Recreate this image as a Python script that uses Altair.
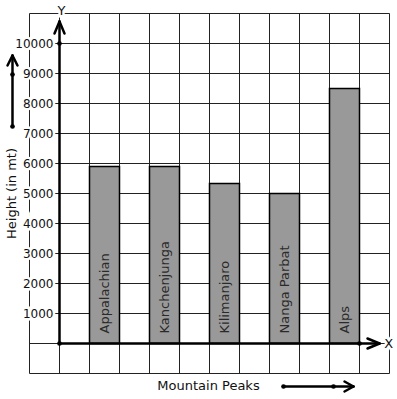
import altair as alt
import pandas as pd

# ---- data ----
peaks = ["Appalachian", "Kanchenjunga", "Kilimanjaro", "Nanga Parbat", "Alps"]
heights = [5900, 5900, 5330, 5000, 8500]
slots = [1, 3, 5, 7, 9]          # grid column where each bar starts
y_ticks = [1000, 2000, 3000, 4000, 5000, 6000, 7000, 8000, 9000, 10000]
grid_x = list(range(-1, 12))
grid_y = list(range(-1000, 12000, 1000))

FONT = "DejaVu Sans"
xs = alt.Scale(domain=[-1, 11], nice=False, zero=False)
ys = alt.Scale(domain=[-1000, 11000], nice=False, zero=False)

def X(f):
    return alt.X(f, type="quantitative", scale=xs, axis=None)

def Y(f):
    return alt.Y(f, type="quantitative", scale=ys, axis=None)

# grid
vg = pd.DataFrame({"x": grid_x, "y": -1000, "y2": 11000})
hg = pd.DataFrame({"y": grid_y, "x": -1, "x2": 11})
vgrid = alt.Chart(vg).mark_rule(color="#222", strokeWidth=1).encode(
    x=X("x"), y=Y("y"), y2="y2")
hgrid = alt.Chart(hg).mark_rule(color="#222", strokeWidth=1).encode(
    y=Y("y"), x=X("x"), x2="x2")

# bars
bd = pd.DataFrame({"peak": peaks, "h": heights, "x0": slots,
                   "x1": [s + 1 for s in slots], "xc": [s + 0.5 for s in slots],
                   "base": 0, "lab_y": 333})
bars = alt.Chart(bd).mark_rect(fill="#999999", stroke="#000", strokeWidth=1.5).encode(
    x=X("x0"), x2="x1", y=Y("base"), y2="h")
bar_text = alt.Chart(bd).mark_text(angle=270, align="left", baseline="middle",
                                   font=FONT, fontSize=13, color="#2a2a2a").encode(
    x=X("xc"), y=Y("lab_y"), text="peak")

# axes, arrows (segments)
seg = pd.DataFrame([
    (0, 0, 0, 10733), (0, 0, 10.667, 0),
    (-0.167, 10333, 0, 10733), (0.167, 10333, 0, 10733),
    (10.267, 167, 10.667, 0), (10.267, -167, 10.667, 0),
    (-1.567, 7233, -1.567, 9600),
    (-1.733, 9267, -1.567, 9600), (-1.4, 9267, -1.567, 9600),
    (7.467, -1433, 9.8, -1433),
    (9.5, -1267, 9.8, -1433), (9.5, -1600, 9.8, -1433),
], columns=["x", "y", "x2", "y2"])
segs = alt.Chart(seg).mark_rule(color="#000", strokeWidth=2.5, strokeCap="round").encode(
    x=X("x"), y=Y("y"), x2="x2", y2="y2")

dots_df = pd.DataFrame({"x": [0, 0, 10, -1.567, -1.567, 7.467, 9.133],
                        "y": [0, 10000, 0, 8967, 7233, -1433, -1433]})
dots = alt.Chart(dots_df).mark_circle(color="#000", size=22, opacity=1).encode(
    x=X("x"), y=Y("y"))

# tick labels with white halo
td = pd.DataFrame({"v": y_ticks, "lab": [str(t) for t in y_ticks], "x": -0.2})
tick_halo = alt.Chart(td).mark_text(align="right", baseline="middle", font=FONT, fontSize=12,
                                    stroke="white", strokeWidth=5, color="white").encode(
    x=X("x"), y=Y("v"), text="lab")
tick_txt = alt.Chart(td).mark_text(align="right", baseline="middle", font=FONT, fontSize=12,
                                   color="#111").encode(
    x=X("x"), y=Y("v"), text="lab")

# axis letters
ld = pd.DataFrame({"t": ["Y", "X"], "x": [0.067, 10.97], "y": [11100, 0]})
let_halo = alt.Chart(ld).mark_text(align="center", baseline="middle", font=FONT, fontSize=13,
                                   stroke="white", strokeWidth=5, color="white").encode(
    x=X("x"), y=Y("y"), text="t")
let_txt = alt.Chart(ld).mark_text(align="center", baseline="middle", font=FONT, fontSize=13,
                                  color="#111").encode(
    x=X("x"), y=Y("y"), text="t")

# titles
ytd = pd.DataFrame({"t": ["Height (in mt)"], "x": [-1.6], "y": [5000]})
ytitle = alt.Chart(ytd).mark_text(angle=270, align="center", baseline="middle", font=FONT,
                                  fontSize=13, color="#111").encode(
    x=X("x"), y=Y("y"), text="t")
xtd = pd.DataFrame({"t": ["Mountain Peaks"], "x": [4.967], "y": [-1400]})
xtitle = alt.Chart(xtd).mark_text(align="center", baseline="middle", font=FONT,
                                  fontSize=13, color="#111").encode(
    x=X("x"), y=Y("y"), text="t")

chart = alt.layer(vgrid, hgrid, bars, bar_text, segs, dots, tick_halo, tick_txt,
                  let_halo, let_txt, ytitle, xtitle).properties(
    width=360, height=360,
    padding={"left": 29.5, "top": 13.5, "right": 7.5, "bottom": 25.5},
    autosize=alt.AutoSizeParams(type="none"),
    background="white",
).configure_view(strokeWidth=0)

chart.save("out.html", embed_options={"renderer": "svg", "actions": False})
